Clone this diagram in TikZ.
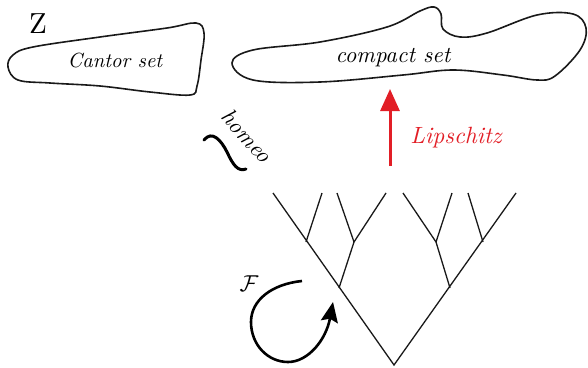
\documentclass[tikz,border=0pt]{standalone}
\usetikzlibrary{arrows.meta}
\definecolor{lipred}{RGB}{226,30,38}
\tikzset{
  blob/.style={line width=1.6pt, black!90},
  branch/.style={line width=1.3pt, black!90},
  lbl/.style={font=\normalsize\itshape, inner sep=0pt},
}
\begin{document}
\begin{tikzpicture}[x=1pt,y=-1pt]
\useasboundingbox (0,0) rectangle (588,367);

% Cantor set region
\draw[blob] plot[smooth cycle, tension=0.6] coordinates {
  (8,67) (13,55) (33,47) (100,37) (167,28) (196,23) (204,33) (201,60)
  (197,86) (190,95) (150,92) (100,86) (50,83) (18,80)};
\node[lbl, scale=2.05] (cantor) at (115,60) {Cantor set};
\node[font=\normalsize, scale=2.9, inner sep=0pt] (Z) at (38,24) {Z};

% compact set region
\draw[blob] plot[smooth cycle, tension=0.6] coordinates {
  (232,63) (253,50) (320,42) (387,27) (420,11) (434,7) (441,14) (443,29)
  (460,37) (487,33) (537,15) (573,14) (586,28) (580,50) (555,76) (537,80)
  (503,75) (453,70) (403,75) (320,82) (253,80)};
\node[lbl, scale=2.27] (compact) at (393,58) {compact set};

% Lipschitz map
\coordinate (lipS) at (390,166);
\coordinate (lipT) at (390,89);
\draw[lipred, line width=3pt, -{Triangle[width=19pt,length=22pt]}] (lipS) -- (lipT);
\node[lbl, scale=2.35, text=lipred] (lip) at (456,138) {Lipschitz};

% homeomorphism
\draw[line width=3pt, line cap=round] (204,140)
  .. controls (212,130) and (221,140) .. (227,152)
  .. controls (233,165) and (238,172) .. (246,169);
\node[lbl, scale=2.28, rotate=-48] (homeo) at (247,136) {homeo};

% binary tree
\coordinate (root) at (394,365);
\coordinate (L) at (273,193);
\coordinate (R) at (516,193);
\coordinate (a) at (339,288);
\coordinate (b) at (354,242);
\coordinate (c) at (306,242);
\coordinate (d) at (450,288);
\coordinate (e) at (436,242);
\coordinate (f) at (483,242);
\coordinate (l1) at (322,193);
\coordinate (l2) at (337,193);
\coordinate (l3) at (386,193);
\coordinate (r1) at (403,193);
\coordinate (r2) at (452,193);
\coordinate (r3) at (468,193);
\draw[branch] (L) -- (root) -- (R);
\draw[branch] (c) -- (l1);
\draw[branch] (a) -- (b) -- (l2);
\draw[branch] (b) -- (l3);
\draw[branch] (d) -- (e) -- (r1);
\draw[branch] (e) -- (r2);
\draw[branch] (f) -- (r3);

% shift map F
\coordinate (Fs) at (302,281);
\coordinate (Ft) at (333,302);
\draw[line width=2.6pt, -{Stealth[length=20pt,width=17pt,inset=3pt]}] (Fs)
  .. controls (272,284) and (251,300) .. (251,322)
  .. controls (251,345) and (268,362) .. (288,362)
  .. controls (308,362) and (326,340) .. (Ft);
\node[font=\normalsize, scale=2.3, inner sep=0pt] (F) at (249,284) {$\mathcal{F}$};
\end{tikzpicture}
\end{document}
